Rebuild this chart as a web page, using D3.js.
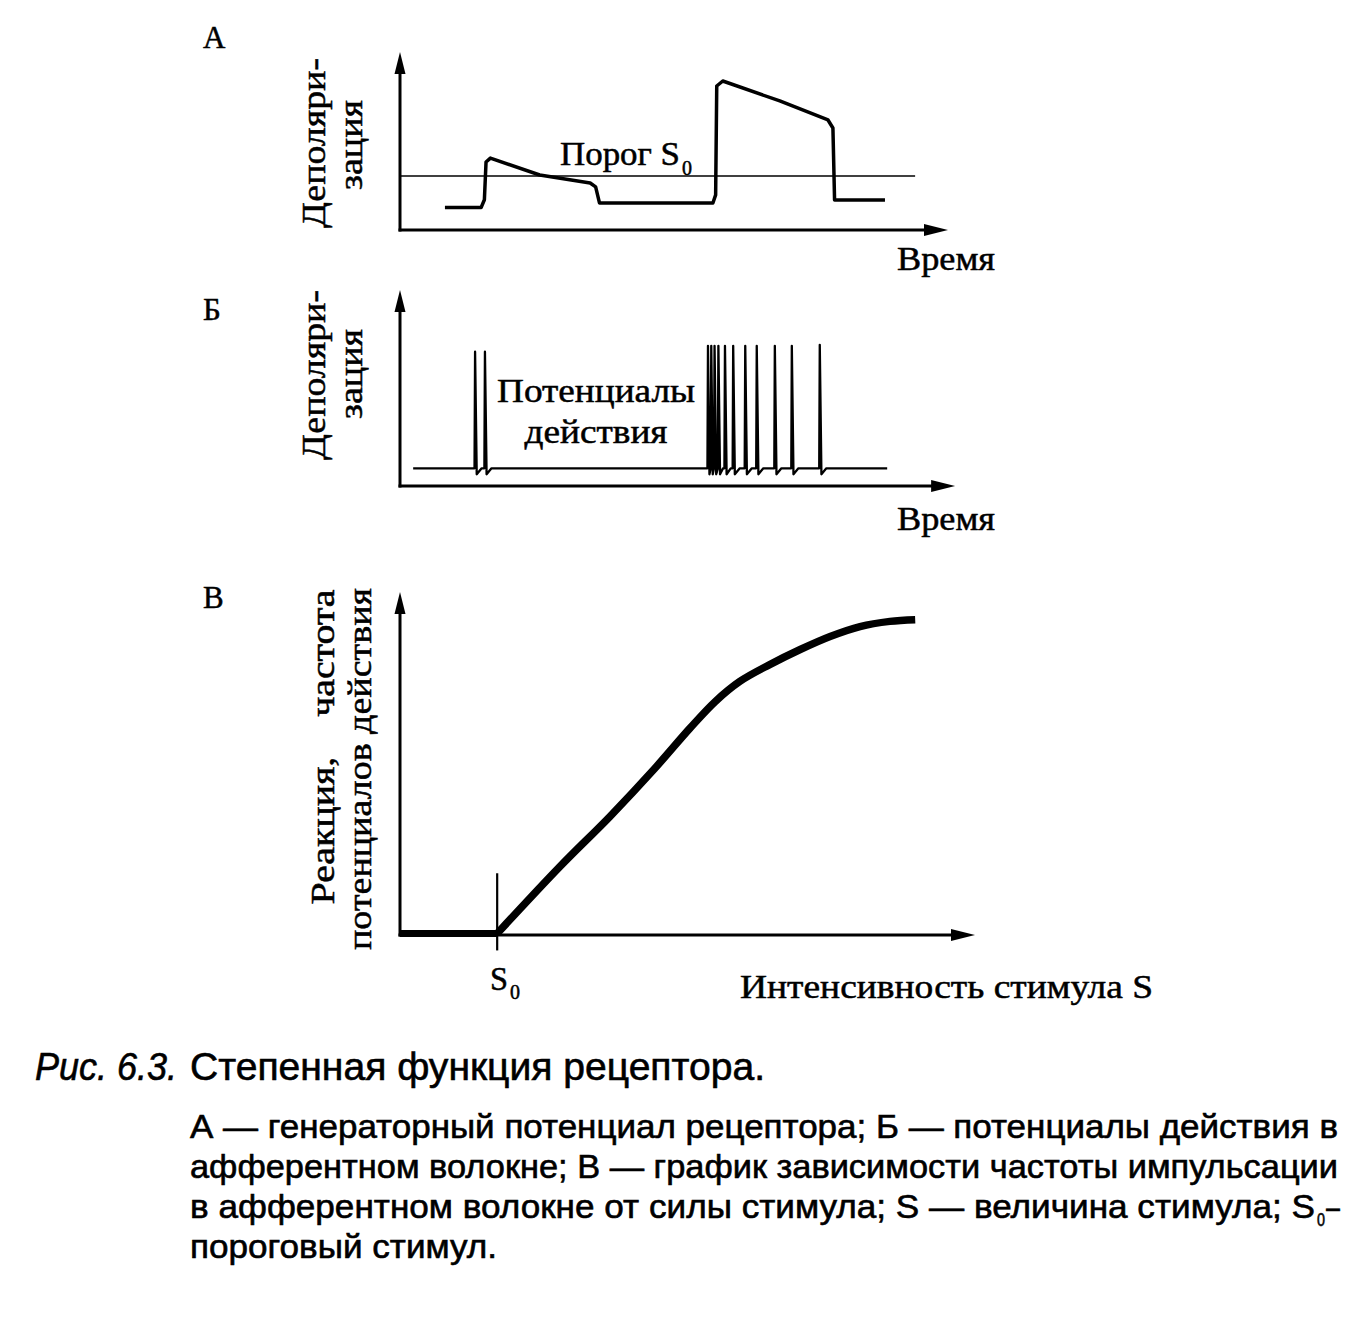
<!DOCTYPE html>
<html><head><meta charset="utf-8">
<script src="https://cdn.jsdelivr.net/npm/d3@7"></script>
<style>
html,body{margin:0;padding:0;background:#fff;}
svg{display:block;}
.serif{font-family:"Liberation Serif","Times New Roman",serif;fill:#000;stroke:#000;stroke-width:0.5px;white-space:pre;}
.cap{font-family:"Liberation Sans","Arial",sans-serif;fill:#000;stroke:#000;stroke-width:0.6px;}
</style></head>
<body>
<svg id="c" width="1365" height="1318"></svg>
<script>
// ---------- DATA ----------
// Panel A: generator potential (time, depolarization)
const aTime  = [8.2, 14.8, 15.4, 15.7, 16.5, 25.5, 34.7, 35.7, 36.4, 57.1, 57.6, 57.8, 58.9, 69.3, 78.1, 79.0, 79.3, 88.5];
const aDepol = [12.6, 12.6, 17.0, 38.2, 40.4, 30.9, 26.4, 24.2, 15.2, 15.2, 19.7, 80.9, 83.7, 72.5, 61.8, 57.3, 16.9, 16.9];
const aThreshold = 30.3;
// Panel B: action potentials
const bStart = 2.4, bEnd = 88.9;
const bBaseline = 9.0;
const bSpikeTimes = [13.7, 15.5, 56.2, 56.8, 57.4, 58.1, 59.3, 60.8, 63.0, 65.1, 68.4, 71.5, 76.6];
const bSpikePeak  = [68.5, 68.5, 71.5, 71.5, 71.5, 71.5, 71.5, 71.5, 71.5, 71.5, 71.5, 71.5, 72.0];
const bDip = 6.0;
// Panel C: response vs stimulus intensity
const cStim = [0, 16.9, 27.8, 36.5, 44.3, 50.4, 54.8, 59.1, 64.3, 69.6, 74.8, 80.0, 85.2, 89.6];
const cRate = [0, 0, 19.5, 34.1, 48.1, 59.8, 67.6, 73.5, 78.4, 82.8, 86.6, 89.5, 91.0, 91.5];
const cThreshold = 16.9;
// Texts
const panelLabels = ["А", "Б", "В"];
const yLabelA = ["Деполяри-", "зация"];
const yLabelC = ["Реакция,    частота", "потенциалов действия"];
const xLabelTime = "Время";
const xLabelC = "Интенсивность стимула S";
const thresholdLabel = ["Порог S", "0"];
const apLabel = ["Потенциалы", "действия"];
const captionTitle = ["Рис. 6.3.", "Степенная функция рецептора."];
const captionLines = [
  "А — генераторный потенциал рецептора; Б — потенциалы действия в",
  "афферентном волокне; В — график зависимости частоты импульсации",
  "в афферентном волокне от силы стимула; S — величина стимула; S",
  "пороговый стимул."
];

// ---------- DRAW ----------
const svg = d3.select("#c");

function arrowUp(g, x, y){ // tip at (x,y)
  g.append("path").attr("d", `M${x},${y} L${x-5.5},${y+22} L${x+5.5},${y+22} Z`).attr("fill","#000");
}
function arrowRight(g, x, y){
  g.append("path").attr("d", `M${x},${y} L${x-24},${y-6} L${x-24},${y+6} Z`).attr("fill","#000");
}
function axes(g, x, y, ytop, yAxisBottom, xend){
  g.append("line").attr("x1",x).attr("x2",x).attr("y1",yAxisBottom+1.5).attr("y2",ytop+10)
    .attr("stroke","#000").attr("stroke-width",3);
  g.append("line").attr("x1",x-1.5).attr("x2",xend-10).attr("y1",y).attr("y2",y)
    .attr("stroke","#000").attr("stroke-width",3);
  arrowUp(g, x, ytop);
  arrowRight(g, xend, y);
}
function vtext(x, y, txt, size, len, cls){
  const t = svg.append("text").attr("class", cls||"serif")
    .attr("transform", `translate(${x},${y}) rotate(-90)`)
    .attr("text-anchor","middle").attr("font-size", size).text(txt);
  if (len) t.attr("textLength", len).attr("lengthAdjust","spacingAndGlyphs");
  return t;
}
function htext(x, y, txt, size, len, anchor, cls){
  const t = svg.append("text").attr("class", cls||"serif")
    .attr("x", x).attr("y", y).attr("text-anchor", anchor||"start").attr("font-size", size).text(txt);
  if (len) t.attr("textLength", len).attr("lengthAdjust","spacingAndGlyphs");
  return t;
}

// Panel A
const xA = d3.scaleLinear().domain([0,100]).range([400,948]);
const yA = d3.scaleLinear().domain([0,100]).range([230,52]);
const gA = svg.append("g");
axes(gA, xA(0), yA(0), yA(100), yA(0), xA(100));
gA.append("line").attr("x1", xA(0)).attr("x2", xA(94)).attr("y1", yA(aThreshold)).attr("y2", yA(aThreshold))
  .attr("stroke","#000").attr("stroke-width",1.6);
const lineA = d3.line().x(d=>xA(d[0])).y(d=>yA(d[1])).curve(d3.curveLinear);
gA.append("path").attr("d", lineA(aTime.map((t,i)=>[t,aDepol[i]])))
  .attr("fill","none").attr("stroke","#000").attr("stroke-width",3.5).attr("stroke-linejoin","round");

// Panel B
const xB = d3.scaleLinear().domain([0,100]).range([400,948]);
const yB = d3.scaleLinear().domain([0,100]).range([486,290]);
const gB = svg.append("g");
axes(gB, xB(0), yB(0), yB(100), yB(0), xB(101.3));
const ptsB = [[bStart, bBaseline]];
bSpikeTimes.forEach((t,i)=>{
  const next = i < bSpikeTimes.length-1 ? bSpikeTimes[i+1] : t + 3;
  const gap = next - t;
  ptsB.push([t-0.1, bBaseline]);
  ptsB.push([t, bSpikePeak[i]]);
  ptsB.push([t + Math.min(0.3, gap*0.45), bDip]);
  if (gap > 1.0) ptsB.push([t + Math.min(1.2, gap*0.7), bBaseline]);
});
ptsB.push([bEnd, bBaseline]);
const lineB = d3.line().x(d=>xB(d[0])).y(d=>yB(d[1]));
gB.append("path").attr("d", lineB(ptsB)).attr("fill","none").attr("stroke","#000")
  .attr("stroke-width",2.3).attr("stroke-linejoin","round");

// Panel C
const xC = d3.scaleLinear().domain([0,100]).range([400,975]);
const yC = d3.scaleLinear().domain([0,100]).range([935,592]);
const gC = svg.append("g");
axes(gC, xC(0), yC(0), yC(100), yC(0), xC(100));
gC.append("line").attr("x1", xC(cThreshold)).attr("x2", xC(cThreshold)).attr("y1", yC(18)).attr("y2", yC(-4.5))
  .attr("stroke","#000").attr("stroke-width",2.2);
const cPts = cStim.map((s,i)=>[s, cRate[i]]);
const flatC = d3.line().x(d=>xC(d[0])).y(d=>yC(d[1]));
const riseC = d3.line().x(d=>xC(d[0])).y(d=>yC(d[1])).curve(d3.curveCatmullRom.alpha(0.5));
gC.append("path").attr("d", flatC(cPts.slice(0,2)))
  .attr("fill","none").attr("stroke","#000").attr("stroke-width",7).attr("transform","translate(0,-1.5)");
gC.append("path").attr("d", riseC(cPts.slice(1)))
  .attr("fill","none").attr("stroke","#000").attr("stroke-width",7.5).attr("stroke-linejoin","round")
  .attr("transform","translate(0,-1.5)");

// Panel letters
htext(203, 48, panelLabels[0], 31);
htext(203, 320, panelLabels[1], 31);
htext(203, 608, panelLabels[2], 31);

// Panel A texts
vtext(325, 143, yLabelA[0], 33, 170);
vtext(362, 145, yLabelA[1], 33, 90);
htext(897, 270, xLabelTime, 33, 98);
htext(560, 165, thresholdLabel[0], 33, 120);
htext(682, 175, thresholdLabel[1], 20, 10);

// Panel B texts
vtext(325, 375, yLabelA[0], 33, 170);
vtext(362, 374, yLabelA[1], 33, 90);
htext(897, 530, xLabelTime, 33, 98);
htext(596, 402, apLabel[0], 33, 198, "middle");
htext(596, 443, apLabel[1], 33, 143, "middle");

// Panel C texts
vtext(334, 747, yLabelC[0], 33, 315);
vtext(371, 769, yLabelC[1], 33, 362);
htext(490, 990, "S", 33, 18);
htext(510, 999, "0", 20, 10);
htext(740, 998, xLabelC, 33, 413);

// Caption
htext(35, 1080, captionTitle[0], 39, 142, "start", "cap").attr("font-style","italic");
htext(190, 1080, captionTitle[1], 39, 575, "start", "cap");
const capY = [1138, 1178, 1218, 1258];
const capLen = [1148, 1148, 1125, 307];
captionLines.forEach((l,i)=>{
  htext(190, capY[i], l, 33, capLen[i], "start", "cap");
});
htext(1317, 1226, "0", 19, 8, "start", "cap");
htext(1326, 1218, "—", 33, 14, "start", "cap");
</script>
</body></html>
